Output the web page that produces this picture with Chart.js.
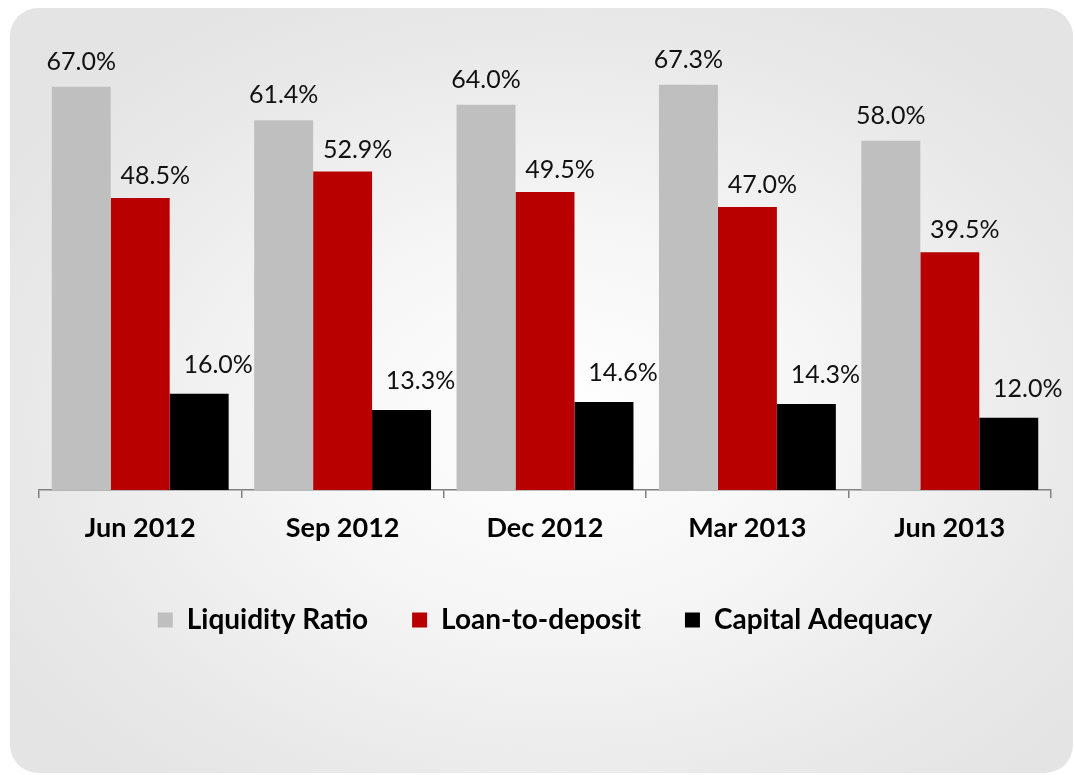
<!DOCTYPE html>
<html>
<head>
<meta charset="utf-8">
<script src="https://cdn.jsdelivr.net/npm/chart.js@4.4.1/dist/chart.umd.min.js"></script>
<style>
  html, body { margin: 0; padding: 0; background: #ffffff; }
  #wrap { position: relative; width: 1075px; height: 775px; overflow: hidden; }
  #panel {
    position: absolute; left: 10px; top: 8px; width: 1063px; height: 765px;
    border-radius: 28px;
    background: radial-gradient(ellipse 62% 62% at 52% 54%, #ffffff 0%, #f6f6f6 40%, #e9e9e9 80%, #e4e4e4 100%);
  }
  #c { position: absolute; left: 0; top: 0; }
</style>
</head>
<body>
<div id="wrap">
  <div id="panel"></div>
  <canvas id="c" width="1075" height="775"></canvas>
</div>
<script>
const categories = ['Jun 2012', 'Sep 2012', 'Dec 2012', 'Mar 2013', 'Jun 2013'];
const liquidityRatio = [67.0, 61.4, 64.0, 67.3, 58.0];
const loanToDeposit = [48.5, 52.9, 49.5, 47.0, 39.5];
const capitalAdequacy = [16.0, 13.3, 14.6, 14.3, 12.0];
const seriesNames = ['Liquidity Ratio', 'Loan-to-deposit', 'Capital Adequacy'];

const FONT = 'Lato, "Open Sans", "DejaVu Sans", sans-serif';

// per-series label placement (style only)
const labelStyle = [
  { dx: 0, dy: 17 },
  { dx: 15, dy: 14 },
  { dx: 19, dy: 21 }
];

const valueLabels = {
  id: 'valueLabels',
  afterDatasetsDraw(chart) {
    const ctx = chart.ctx;
    ctx.save();
    ctx.font = '400 25px ' + FONT;
    ctx.fillStyle = '#111111';
    ctx.textAlign = 'center';
    ctx.textBaseline = 'alphabetic';
    chart.data.datasets.forEach((ds, di) => {
      const meta = chart.getDatasetMeta(di);
      meta.data.forEach((bar, i) => {
        const v = ds.data[i];
        const st = labelStyle[di];
        ctx.fillText(v.toFixed(1) + '%', bar.x + st.dx, bar.y - st.dy);
      });
    });
    ctx.restore();
  }
};

new Chart(document.getElementById('c'), {
  type: 'bar',
  data: {
    labels: categories,
    datasets: [
      { label: seriesNames[0], data: liquidityRatio, backgroundColor: '#bfbfbf' },
      { label: seriesNames[1], data: loanToDeposit, backgroundColor: '#b80000' },
      { label: seriesNames[2], data: capitalAdequacy, backgroundColor: '#000000' }
    ]
  },
  options: {
    responsive: false,
    animation: false,
    devicePixelRatio: 1,
    layout: { padding: { left: 39, right: 24, top: 38.5, bottom: 131 } },
    datasets: { bar: { categoryPercentage: 0.874, barPercentage: 1.0, borderWidth: 0 } },
    scales: {
      x: {
        grid: {
          display: true, drawOnChartArea: false, drawTicks: true,
          tickLength: 8, color: '#808080', lineWidth: 1.5, offset: true
        },
        border: { display: true, color: '#808080', width: 1.5 },
        ticks: {
          color: '#000000', padding: 14,
          font: { family: FONT, size: 27, weight: 'bold' }
        },
        afterFit(scale) { scale.height = 72; }
      },
      y: { display: false, min: 0, max: 75 }
    },
    plugins: {
      legend: {
        position: 'bottom',
        labels: {
          boxWidth: 15, boxHeight: 15, padding: 44,
          color: '#000000',
          font: { family: FONT, size: 28, weight: 'bold' }
        }
      },
      tooltip: { enabled: false }
    }
  },
  plugins: [valueLabels]
});
</script>
</body>
</html>
